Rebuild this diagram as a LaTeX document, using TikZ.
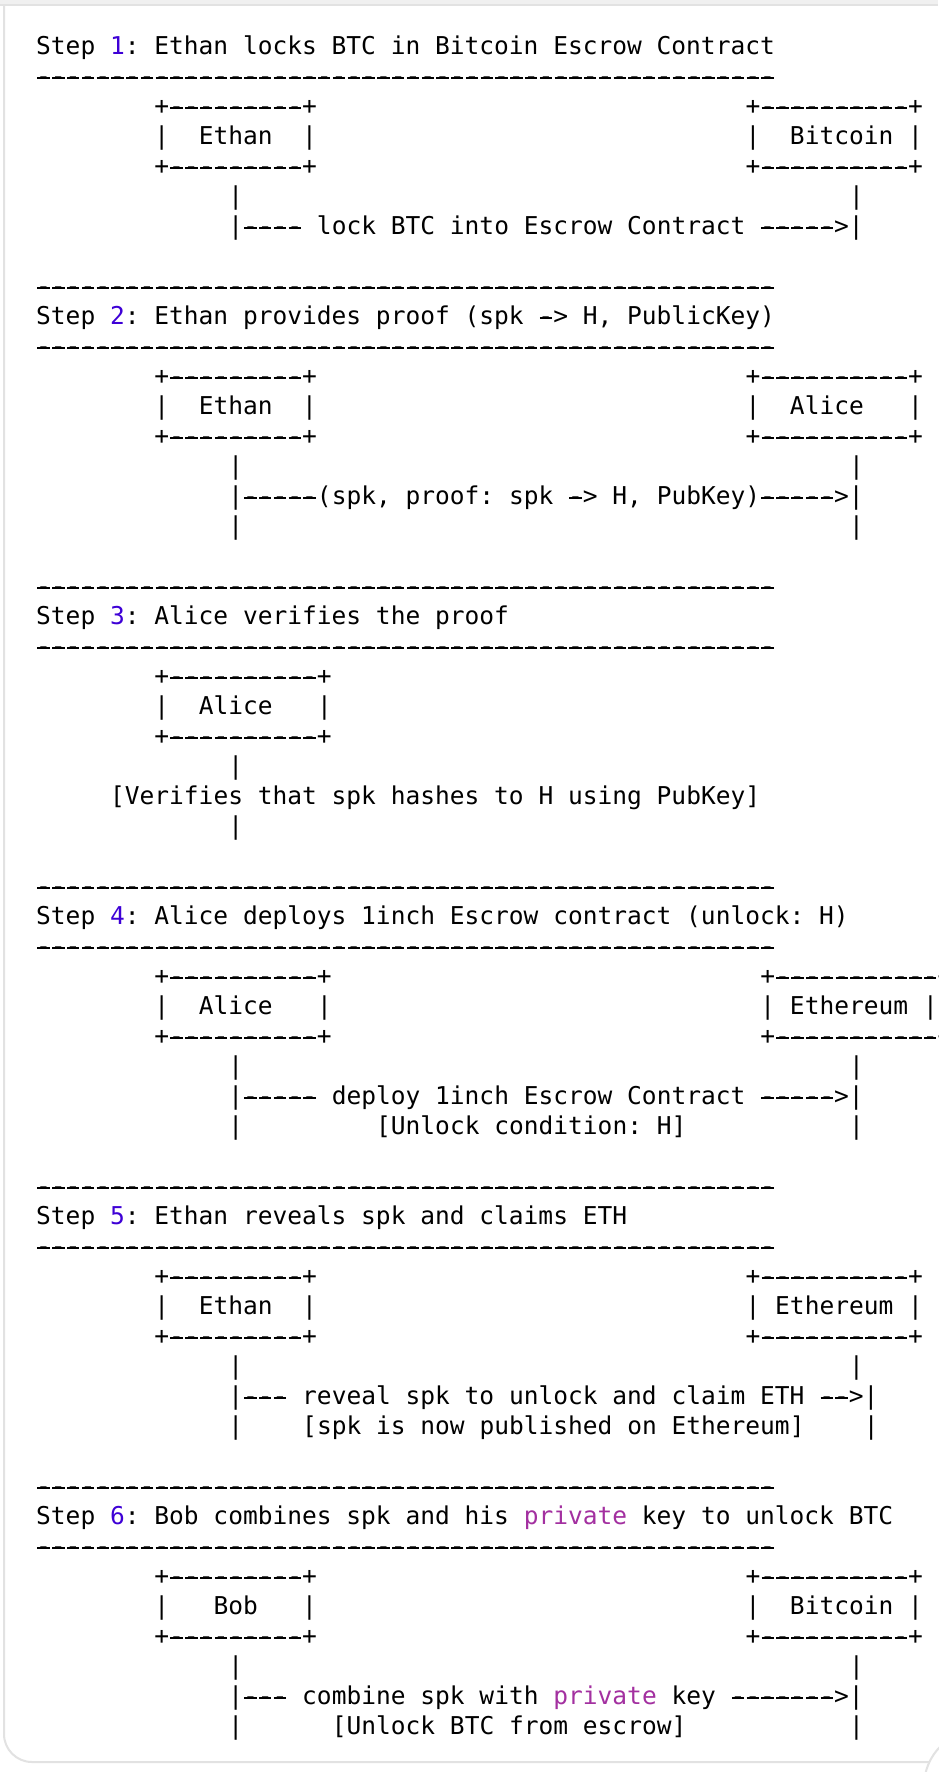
\documentclass[tikz,border=0pt]{standalone}
\usepackage{fontspec}
\setmonofont{DejaVu Sans Mono}
\usepackage{xcolor}
\usepackage{tikz}

\definecolor{stepnum}{RGB}{62,0,214}
\definecolor{keyword}{RGB}{163,48,160}
\definecolor{frameline}{RGB}{226,226,226}
\definecolor{topband}{RGB}{240,240,240}

% longer dashes: lay a rule over every hyphen
\newXeTeXintercharclass\hyphenclass
\XeTeXcharclass`\-=\hyphenclass
\newcommand\longdash{\llap{\rule[2.6pt]{6.15pt}{1.1pt}\hspace{0.62pt}}}
\XeTeXinterchartoks\hyphenclass 0 = {\longdash}
\XeTeXinterchartoks\hyphenclass\hyphenclass = {\longdash}
\XeTeXinterchartoks\hyphenclass 4095 = {\longdash}
\newcommand\codefont{\ttfamily\fontsize{12.27pt}{15pt}\selectfont\frenchspacing\XeTeXinterchartokenstate=1\relax}

\begin{document}
\begin{tikzpicture}[
    x=0.5pt, y=-0.5pt,
    txt/.style={anchor=base west, inner sep=0pt, outer sep=0pt, font=\codefont},
    codegrid/.style={x=7.39pt, y=-15pt, shift={(18.1pt,-27.15pt)}}
]
    \useasboundingbox (0,0) rectangle (938,1772);
    \fill[white] (0,0) rectangle (938,1772);

    % card frame
    \fill[topband] (0,0) rectangle (938,5);
    \draw[frameline, line width=1pt] (0,5) -- (938,5);
    \draw[frameline, line width=1pt, rounded corners=14pt] (4,5) -- (4,1762) -- (938,1762);
    \draw[frameline, line width=1pt, fill=white] (980,1786) circle[radius=28pt];

    \begin{scope}[codegrid]
    % step headers
    \node[txt] (step1) at (0,0) {Step {\color{stepnum}1}: Ethan locks BTC in Bitcoin Escrow Contract};
    \node[txt] (step2) at (0,9) {Step {\color{stepnum}2}: Ethan provides proof (spk -> H, PublicKey)};
    \node[txt] (step3) at (0,19) {Step {\color{stepnum}3}: Alice verifies the proof};
    \node[txt] (step4) at (0,29) {Step {\color{stepnum}4}: Alice deploys 1inch Escrow contract (unlock: H)};
    \node[txt] (step5) at (0,39) {Step {\color{stepnum}5}: Ethan reveals spk and claims ETH};
    \node[txt] (step6) at (0,49) {Step {\color{stepnum}6}: Bob combines spk and his \textcolor{keyword}{private} key to unlock BTC};

    % rules
    \foreach \r in {1,8,10,18,20,28,30,38,40,48,50}
        \node[txt] (rule\r) at (0,\r) {--------------------------------------------------};

    % box edges
    \foreach \r in {2,4,11,13,41,43,51,53} {
        \node[txt] (ltop\r) at (8,\r) {+---------+};
        \node[txt] (rtop\r) at (48,\r) {+----------+};
    }
    \foreach \r in {21,23,31,33}
        \node[txt] (ltop\r) at (8,\r) {+----------+};
    \foreach \r in {31,33}
        \node[txt] (rtop\r) at (49,\r) {+-----------+};

    % box sides
    \foreach \r in {3,12,42,52} {
        \node[txt] (la\r) at (8,\r) {|};
        \node[txt] (lb\r) at (18,\r) {|};
        \node[txt] (ra\r) at (48,\r) {|};
        \node[txt] (rb\r) at (59,\r) {|};
    }
    \foreach \r in {22,32} {
        \node[txt] (la\r) at (8,\r) {|};
        \node[txt] (lb\r) at (19,\r) {|};
    }
    \node[txt] (ra32) at (49,32) {|};
    \node[txt] (rb32) at (60,32) {|};

    % box labels
    \node[txt] (ethan1) at (11,3) {Ethan};
    \node[txt] (bitcoin1) at (51,3) {Bitcoin};
    \node[txt] (ethan2) at (11,12) {Ethan};
    \node[txt] (alice2) at (51,12) {Alice};
    \node[txt] (alice3) at (11,22) {Alice};
    \node[txt] (alice4) at (11,32) {Alice};
    \node[txt] (ethereum4) at (51,32) {Ethereum};
    \node[txt] (ethan5) at (11,42) {Ethan};
    \node[txt] (ethereum5) at (50,42) {Ethereum};
    \node[txt] (bob6) at (12,52) {Bob};
    \node[txt] (bitcoin6) at (51,52) {Bitcoin};

    % lifelines
    \foreach \r in {5,14,16,24,26,34,36,44,46,54,56}
        \node[txt] (lbar\r) at (13,\r) {|};
    \foreach \r in {5,14,16,34,36,44,54,56}
        \node[txt] (rbar\r) at (55,\r) {|};
    \node[txt] (rbar46) at (56,46) {|};

    % messages
    \node[txt] (msg1) at (13,6) {|---- lock BTC into Escrow Contract ----->|};
    \node[txt] (msg2) at (13,15) {|-----(spk, proof: spk -> H, PubKey)----->|};
    \node[txt] (msg3) at (5,25) {[Verifies that spk hashes to H using PubKey]};
    \node[txt] (msg4) at (13,35) {|----- deploy 1inch Escrow Contract ----->|};
    \node[txt] (note4) at (23,36) {[Unlock condition: H]};
    \node[txt] (msg5) at (13,45) {|--- reveal spk to unlock and claim ETH -->|};
    \node[txt] (note5) at (18,46) {[spk is now published on Ethereum]};
    \node[txt] (msg6) at (13,55) {|--- combine spk with \textcolor{keyword}{private} key ------->|};
    \node[txt] (note6) at (20,56) {[Unlock BTC from escrow]};
    \end{scope}
\end{tikzpicture}
\end{document}
